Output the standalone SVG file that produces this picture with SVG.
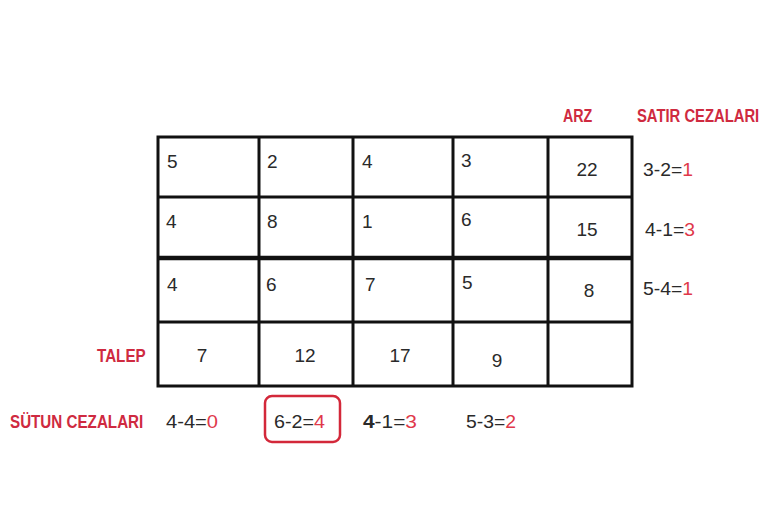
<svg xmlns="http://www.w3.org/2000/svg" width="784" height="520" viewBox="0 0 784 520">
<style>
.bg{fill:#ffffff}
.grid{fill:none;stroke:#111;stroke-width:3}
.thick{stroke:#111;stroke-width:4.5}
.num{font-family:"Liberation Sans","DejaVu Sans",sans-serif;font-size:19px;fill:#2a2a2a}
.c{text-anchor:middle}
.lbl{font-family:"Liberation Sans","DejaVu Sans",sans-serif;font-size:19px;font-weight:bold;fill:#cf2a40}
.red{fill:#e0384a}
.hl{fill:none;stroke:#d3283a;stroke-width:2.5}
</style>
<rect class="bg" x="0" y="0" width="784" height="520"/>
<g id="connectors">
<rect class="grid" x="158" y="137" width="474" height="249"/>
<line class="grid" x1="259" y1="137" x2="259" y2="386"/>
<line class="grid" x1="353" y1="137" x2="353" y2="386"/>
<line class="grid" x1="453" y1="137" x2="453" y2="386"/>
<line class="grid" x1="548" y1="137" x2="548" y2="386"/>
<line class="grid" x1="158" y1="197" x2="632" y2="197"/>
<line class="thick" x1="158" y1="258" x2="632" y2="258"/>
<line class="grid" x1="158" y1="322" x2="632" y2="322"/>
</g>
<g id="row1">
<text class="num" x="167" y="168">5</text>
<text class="num" x="267" y="168">2</text>
<text class="num" x="362" y="168">4</text>
<text class="num" x="461" y="167">3</text>
<text class="num c" x="587" y="176">22</text>
</g>
<g id="row2">
<text class="num" x="166" y="228">4</text>
<text class="num" x="267" y="228">8</text>
<text class="num" x="362" y="228">1</text>
<text class="num" x="461" y="226">6</text>
<text class="num c" x="587" y="236">15</text>
</g>
<g id="row3">
<text class="num" x="167" y="291">4</text>
<text class="num" x="266" y="291">6</text>
<text class="num" x="365" y="291">7</text>
<text class="num" x="462" y="289">5</text>
<text class="num c" x="589" y="297">8</text>
</g>
<g id="talep-row">
<text class="num c" x="202" y="362">7</text>
<text class="num c" x="305" y="362">12</text>
<text class="num c" x="400" y="362">17</text>
<text class="num c" x="497" y="367">9</text>
</g>
<g id="labels">
<text class="lbl" transform="translate(563,122) scale(0.75,1)" x="0" y="0">ARZ</text>
<text class="lbl" transform="translate(637,122) scale(0.78,1)" x="0" y="0">SATIR CEZALARI</text>
<text class="lbl" transform="translate(97,362) scale(0.8,1)" x="0" y="0">TALEP</text>
<text class="lbl" transform="translate(10,428) scale(0.8,1)" x="0" y="0">SÜTUN CEZALARI</text>
</g>
<g id="row-penalties">
<text class="num" x="643" y="176" textLength="50" lengthAdjust="spacingAndGlyphs">3-2=<tspan class="red">1</tspan></text>
<text class="num" x="645" y="236" textLength="50" lengthAdjust="spacingAndGlyphs">4-1=<tspan class="red">3</tspan></text>
<text class="num" x="643" y="295" textLength="50" lengthAdjust="spacingAndGlyphs">5-4=<tspan class="red">1</tspan></text>
</g>
<g id="col-penalties">
<text class="num" x="166" y="428" textLength="52" lengthAdjust="spacingAndGlyphs">4-4=<tspan class="red">0</tspan></text>
<rect class="hl" x="265" y="396" width="75" height="46" rx="7"/>
<text class="num" x="274" y="428" textLength="51" lengthAdjust="spacingAndGlyphs">6-2=<tspan class="red">4</tspan></text>
<text class="num" x="363" y="428" textLength="54" lengthAdjust="spacingAndGlyphs"><tspan font-weight="bold">4</tspan>-1=<tspan class="red">3</tspan></text>
<text class="num" x="466" y="428" textLength="50" lengthAdjust="spacingAndGlyphs">5-3=<tspan class="red">2</tspan></text>
</g>
</svg>
